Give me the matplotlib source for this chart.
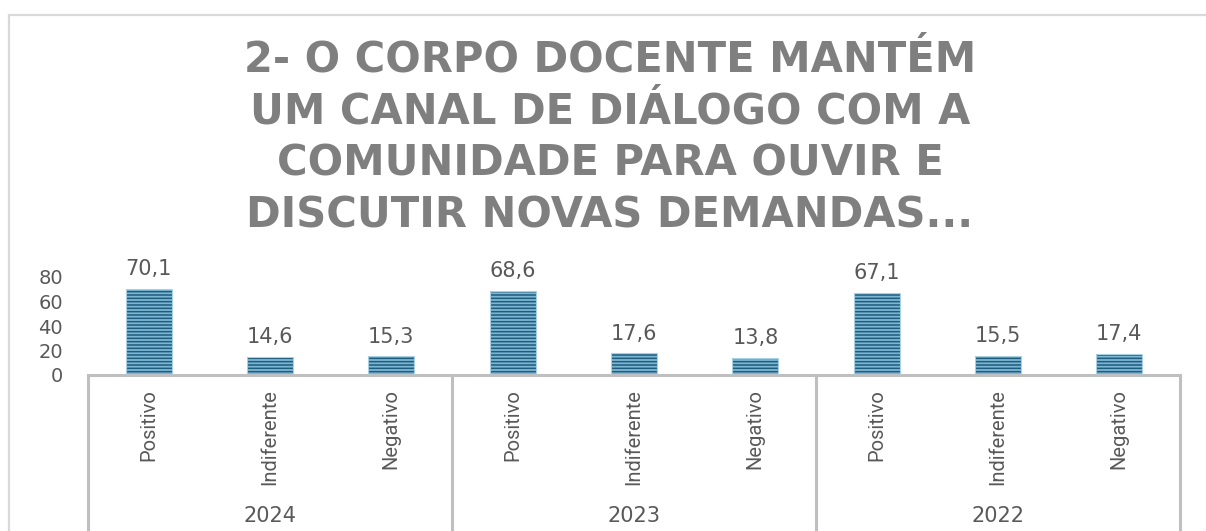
import matplotlib
matplotlib.use("Agg")
import matplotlib.pyplot as plt
from matplotlib.patches import Rectangle
from matplotlib.transforms import blended_transform_factory


years = ["2024", "2023", "2022"]
categories = ["Positivo", "Indiferente", "Negativo"]
values_2024 = [70.1, 14.6, 15.3]
values_2023 = [68.6, 17.6, 13.8]
values_2022 = [67.1, 15.5, 17.4]
title_lines = [
    "2- O CORPO DOCENTE MANTÉM",
    "UM CANAL DE DIÁLOGO COM A",
    "COMUNIDADE PARA OUVIR E",
    "DISCUTIR NOVAS DEMANDAS...",
]
yticks = [0, 20, 40, 60, 80]

W, H = 1206, 531
GRAY = "#595959"
LINE = "#bfbfbf"

plt.rcParams["hatch.linewidth"] = 1.1

fig = plt.figure(figsize=(W / 100, H / 100), dpi=100)

# outer chart frame
fig.patches.append(Rectangle((9 / W, -0.05), 1.2, 1 - 15 / H + 0.05,
                             transform=fig.transFigure, fill=False,
                             edgecolor="#d9d9d9", linewidth=1.6))

ax = fig.add_axes([88 / W, (H - 375) / H, (1180 - 88) / W, (375 - 277) / H])

all_values = values_2024 + values_2023 + values_2022
xs = list(range(len(all_values)))
bars = ax.bar(xs, all_values, width=0.38, color="#7db6d3",
              edgecolor="#1f5d7e", linewidth=0, hatch="-----", zorder=2)
# thin light outline like the original
ax.bar(xs, all_values, width=0.38, fill=False, edgecolor="#a9d0e3",
       linewidth=0.8, zorder=3)

for b, v in zip(bars, all_values):
    ax.annotate(f"{v:.1f}".replace(".", ","),
                (b.get_x() + b.get_width() / 2, b.get_height()),
                xytext=(0, 7), textcoords="offset points",
                ha="center", va="bottom", fontsize=15, color=GRAY,
                family="DejaVu Sans")

ax.set_xlim(-0.5, len(all_values) - 0.5)
ax.set_ylim(0, 80)
ax.set_yticks(yticks)
ax.set_yticklabels([str(t) for t in yticks], fontsize=14, color=GRAY,
                   family="DejaVu Sans")
ax.tick_params(axis="y", length=0, pad=18)
ax.set_xticks([])
for s in ["left", "right", "top"]:
    ax.spines[s].set_visible(False)
ax.spines["bottom"].set_color(LINE)
ax.spines["bottom"].set_linewidth(2.2)
ax.patch.set_visible(False)

# category labels and group separators below the axis
tr = blended_transform_factory(ax.transData, fig.transFigure)
for i, x in enumerate(xs):
    ax.text(x, 1 - 389 / H, categories[i % 3], transform=tr, rotation=90,
            ha="center", va="top", fontsize=14.5, color=GRAY,
            family=["Liberation Sans Narrow", "Roboto"])

for g, year in enumerate(years):
    ax.text(g * 3 + 1, 1 - 516 / H, year, transform=tr, ha="center",
            va="center", fontsize=15, color=GRAY, family="DejaVu Sans")

for xb in [-0.5, 2.5, 5.5, 8.5]:
    ax.plot([xb, xb], [1 - 375 / H, 0], transform=tr, color=LINE,
            linewidth=2.2, clip_on=False, solid_capstyle="butt")

for i, line in enumerate(title_lines):
    fig.text(610 / W, 1 - (60 + i * 51.7) / H, line, ha="center",
             va="center", fontsize=30, fontweight="bold", color="#7f7f7f",
             family="DejaVu Sans")

fig.savefig("out.png", dpi=100)
